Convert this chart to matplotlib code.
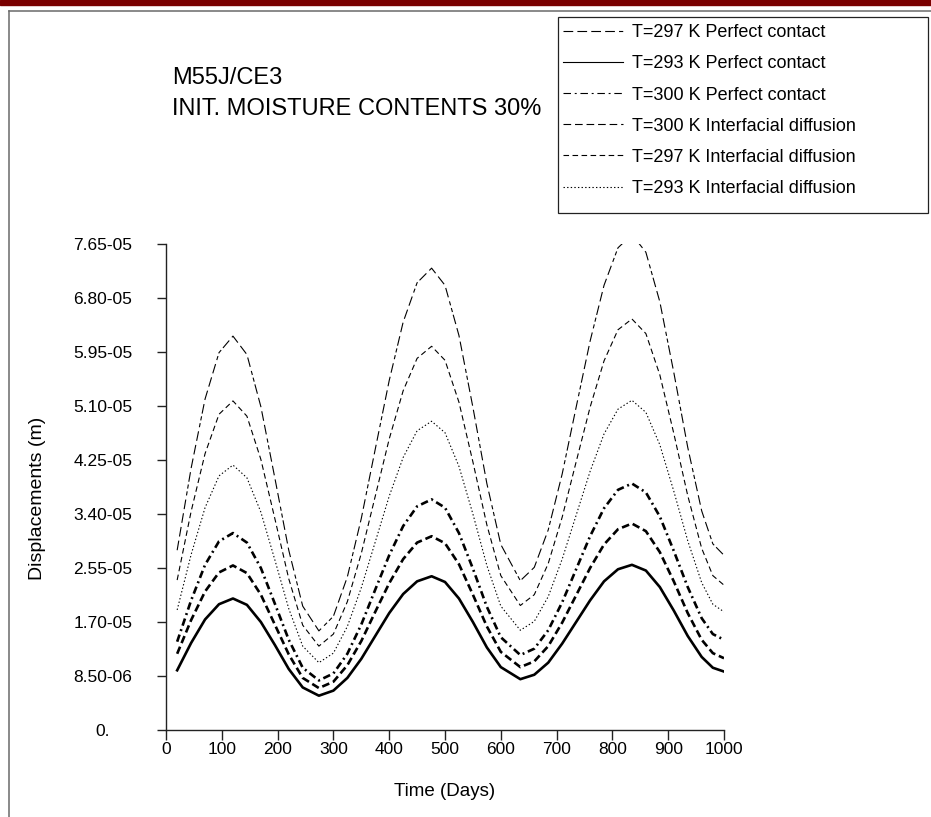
import matplotlib.pyplot as plt
from matplotlib.lines import Line2D
from matplotlib.patches import Rectangle

plt.rcParams['font.family'] = ['Liberation Sans', 'DejaVu Sans']
plt.rcParams['lines.scale_dashes'] = False

# time in days, displacements in units of 1e-5 m
days = [20, 45, 70, 95, 120, 145, 170, 195, 220, 245, 274, 300, 325, 350, 375, 400,
        425, 450, 476, 500, 525, 550, 575, 600, 635, 660, 685, 710, 735, 760, 785,
        810, 835, 860, 885, 910, 935, 960, 980, 1000]

pc_297 = [2.83, 4.12, 5.21, 5.94, 6.20, 5.91, 5.09, 3.97, 2.83, 1.95, 1.56, 1.79, 2.41,
          3.33, 4.42, 5.50, 6.42, 7.04, 7.27, 7.00, 6.21, 5.08, 3.88, 2.92, 2.35, 2.56,
          3.15, 4.03, 5.08, 6.12, 7.00, 7.59, 7.80, 7.52, 6.74, 5.63, 4.45, 3.45, 2.93, 2.75]
id_297 = [2.36, 3.44, 4.35, 4.97, 5.18, 4.94, 4.26, 3.33, 2.38, 1.65, 1.32, 1.51, 2.02,
          2.78, 3.68, 4.58, 5.34, 5.85, 6.04, 5.82, 5.16, 4.22, 3.23, 2.43, 1.96, 2.13,
          2.62, 3.35, 4.22, 5.08, 5.81, 6.30, 6.47, 6.24, 5.59, 4.67, 3.69, 2.86, 2.43, 2.28]
id_293 = [1.89, 2.76, 3.50, 4.00, 4.17, 3.97, 3.43, 2.68, 1.91, 1.32, 1.06, 1.21, 1.63,
          2.24, 2.96, 3.68, 4.29, 4.71, 4.86, 4.68, 4.15, 3.40, 2.59, 1.95, 1.57, 1.71,
          2.10, 2.69, 3.38, 4.07, 4.66, 5.05, 5.19, 5.00, 4.49, 3.76, 2.98, 2.32, 1.98, 1.86]
pc_300 = [1.39, 2.04, 2.60, 2.97, 3.10, 2.95, 2.55, 1.99, 1.42, 0.98, 0.78, 0.89, 1.20,
          1.66, 2.21, 2.75, 3.21, 3.52, 3.63, 3.50, 3.10, 2.54, 1.94, 1.46, 1.18, 1.28,
          1.57, 2.01, 2.53, 3.05, 3.49, 3.78, 3.88, 3.74, 3.36, 2.82, 2.25, 1.76, 1.51, 1.42]
id_300 = [1.20, 1.73, 2.18, 2.48, 2.59, 2.47, 2.13, 1.66, 1.19, 0.82, 0.66, 0.76, 1.02,
          1.40, 1.86, 2.31, 2.69, 2.95, 3.05, 2.94, 2.61, 2.13, 1.63, 1.23, 0.99, 1.08,
          1.32, 1.69, 2.12, 2.55, 2.92, 3.16, 3.25, 3.13, 2.80, 2.34, 1.84, 1.42, 1.21, 1.13]
pc_293 = [0.94, 1.37, 1.74, 1.98, 2.07, 1.97, 1.70, 1.34, 0.96, 0.67, 0.54, 0.62, 0.82,
          1.12, 1.48, 1.84, 2.14, 2.34, 2.42, 2.33, 2.07, 1.70, 1.30, 0.99, 0.80, 0.87,
          1.06, 1.36, 1.70, 2.04, 2.34, 2.53, 2.60, 2.51, 2.25, 1.88, 1.48, 1.15, 0.98, 0.92]

xtick_vals = [0, 100, 200, 300, 400, 500, 600, 700, 800, 900, 1000]
ytick_vals = [0, 0.85, 1.70, 2.55, 3.40, 4.25, 5.10, 5.95, 6.80, 7.65]
ytick_labels = ['0.', '8.50-06', '1.70-05', '2.55-05', '3.40-05', '4.25-05',
                '5.10-05', '5.95-05', '6.80-05', '7.65-05']

# legend order: values, label, plot width, dash pattern (None = solid)
series = [
    (pc_297, 'T=297 K Perfect contact', 0.8, (7, 3, 7, 3, 7, 3, 7, 3, 3, 2, 3, 2)),
    (pc_293, 'T=293 K Perfect contact', 1.9, None),
    (pc_300, 'T=300 K Perfect contact', 1.9, (5.4, 2.7, 1.4, 2.7)),
    (id_300, 'T=300 K Interfacial diffusion', 1.9, (5.5, 2.8)),
    (id_297, 'T=297 K Interfacial diffusion', 0.8, (4, 2.5)),
    (id_293, 'T=293 K Interfacial diffusion', 0.8, (1, 1.6)),
]

W, H = 931, 817
fig = plt.figure(figsize=(W / 100, H / 100), dpi=100)

# page decorations: dark red band and grey frame
fig.patches.append(Rectangle((0, 1 - 5 / H), 1, 5 / H, transform=fig.transFigure,
                             color='#7a0000', zorder=0))
fig.add_artist(Line2D([9 / W, 1], [1 - 10.5 / H, 1 - 10.5 / H], color='#6a6a6a', lw=1.1))
fig.add_artist(Line2D([9 / W, 9 / W], [0, 1 - 10.5 / H], color='#6a6a6a', lw=1.1))

ax = fig.add_axes([166 / W, 1 - 730 / H, 558 / W, 486 / H])
handles = []
for vals, label, lw, dash in series:
    line, = ax.plot(days, vals, color='black', lw=lw)
    proxy = Line2D([], [], color='black', lw=0.8)
    if dash is not None:
        line.set_dashes(dash)
        proxy.set_dashes(dash)
    handles.append(proxy)

ax.set_xlim(0, 1000)
ax.set_ylim(0, 7.65)
ax.set_xticks(xtick_vals)
ax.set_yticks(ytick_vals)
ax.set_yticklabels(ytick_labels)
for s in ['top', 'right']:
    ax.spines[s].set_visible(False)
for s in ['left', 'bottom']:
    ax.spines[s].set_linewidth(1.0)
    ax.spines[s].set_color('#222222')
ax.tick_params(axis='both', direction='out', color='#222222', width=1.0, labelsize=12.5)
ax.tick_params(axis='y', length=6.5, pad=39)
ax.tick_params(axis='x', length=7, pad=2)
for t in ax.get_yticklabels():
    t.set_horizontalalignment('center')

ax.set_xlabel('Time (Days)', fontsize=13.5)
ax.set_ylabel('Displacements (m)', fontsize=14)
ax.xaxis.set_label_coords(0.5, -0.109)
ax.yaxis.set_label_coords(-0.215, 0.477)

fig.text(172 / W, 1 - 78 / H, 'M55J/CE3', fontsize=17, va='center')
fig.text(172 / W, 1 - 109 / H, 'INIT. MOISTURE CONTENTS 30%', fontsize=17, va='center')

# legend box
fig.patches.append(Rectangle((558 / W, 1 - 213 / H), 370 / W, 196 / H,
                             transform=fig.transFigure, fill=False,
                             edgecolor='#222222', lw=0.9))
fig.legend(handles, [s[1] for s in series], loc='upper left',
           bbox_to_anchor=(558 / W, 1 - 19 / H), frameon=False, fontsize=13,
           handlelength=3.3, handletextpad=0.5, labelspacing=0.78,
           borderpad=0.3, borderaxespad=0)

fig.savefig('out.png', dpi=100)
